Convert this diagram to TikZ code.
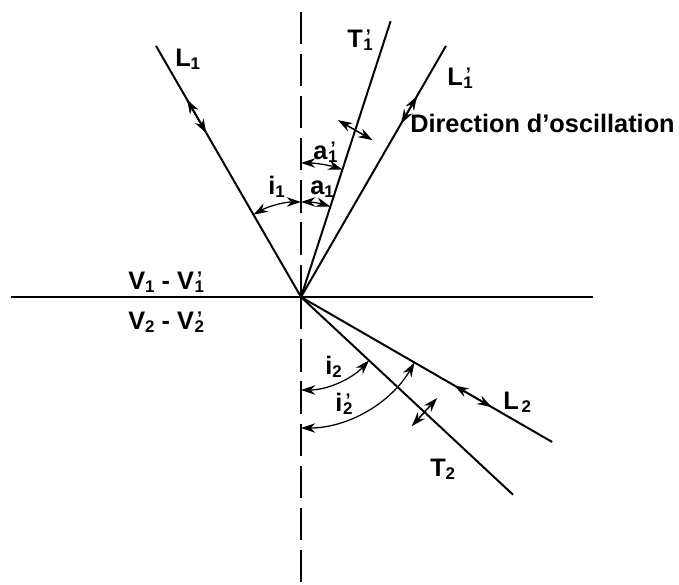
\documentclass[tikz,border=0pt]{standalone}
\usepackage{fontspec}
\setmainfont{Liberation Sans}
\usetikzlibrary{arrows.meta, calc, angles}
% subscript, and subscript with a prime above it
\newcommand{\lo}[1]{\raisebox{-0.08em}{\fontsize{12}{12}\selectfont #1}}
\newcommand{\lop}[1]{\kern0.5pt\rlap{\kern1.8pt\raisebox{0.2em}{\fontsize{13}{13}\selectfont ’}}\raisebox{-0.08em}{\fontsize{12}{12}\selectfont #1}}

\begin{document}
\begin{tikzpicture}[
  x=0.025cm, y=0.025cm,
  >={Stealth[length=3.6mm, width=2.4mm]},
  every node/.style={font=\fontsize{18}{20}\selectfont\bfseries, inner sep=0pt},
  ray/.style  = {line width=1.4pt},
  normal/.style = {line width=1.4pt, dash pattern=on 23pt off 7pt},
  osc/.style  = {<->, line width=1.1pt},
  ang/.style  = {draw, <->, line width=0.9pt},
  lab/.style  = {anchor=base west},
]
  \useasboundingbox (0,0) rectangle (679,585);
  \coordinate (O)    at (301,288);
  \coordinate (west) at (11,288);
  \coordinate (east) at (593,288);
  \coordinate (top)  at (301,579);
  \coordinate (bot)  at (301,0);
  % interface and normal
  \draw[ray] (west) -- (east);
  \draw[normal] (O) -- (top);
  \draw[normal] (O) -- (bot);
  % rays
  \foreach \n/\a in {L1/120, T1/72, L1p/60, L2/-30, T2/-43} {
    \coordinate (\n) at ($(O)+(\a:290)$);
    \draw[ray] (O) -- (\n);
  }
  % directions of oscillation
  \draw[osc] ($(O)!0.652!(L1)$)  -- ($(O)!0.786!(L1)$);
  \draw[osc] ($(O)!0.69!(L1p)$)  -- ($(O)!0.80!(L1p)$);
  \draw[osc] ($(O)!0.61!(L2)$)   -- ($(O)!0.759!(L2)$);
  \draw[osc] ($(O)!0.605!(T1)+(150:20)$) -- ($(O)!0.605!(T1)+(-30:20)$);
  \draw[osc] ($(O)!0.582!(T2)+(48:19)$)  -- ($(O)!0.582!(T2)+(228:19)$);
  % angles
  \pic[ang, angle radius=2.375cm] {angle=top--O--L1};
  \pic[ang, angle radius=2.375cm] {angle=T1--O--top};
  \pic[ang, angle radius=3.35cm]  {angle=T1--O--top};
  \pic[ang, angle radius=2.325cm] {angle=bot--O--T2};
  \pic[ang, angle radius=3.275cm] {angle=bot--O--L2};
  % labels
  \node[lab] (lL1)  at (175,518) {L\lo{1}};
  \node[lab] (lT1)  at (347,537) {T\lop{1}};
  \node[lab] (lL1p) at (447,499) {L\lop{1}};
  \node[lab] (ldir) at (410,452) {Direction d’oscillation};
  \node[lab] (la1p) at (313,425) {a\lop{1}};
  \node[lab] (la1)  at (310,390) {a\lo{1}};
  \node[lab] (li1)  at (268,390) {i\lo{1}};
  \node[lab] (lV1)  at (128,295) {V\lo{1} - V\lop{1}};
  \node[lab] (lV2)  at (128,255) {V\lo{2} - V\lop{2}};
  \node[lab] (li2)  at (325,210) {i\lo{2}};
  \node[lab] (li2p) at (335,173) {i\lop{2}};
  \node[lab] (lL2)  at (503,175) {L\kern2pt\lo{2}};
  \node[lab] (lT2)  at (430,108) {T\lo{2}};
\end{tikzpicture}
\end{document}
